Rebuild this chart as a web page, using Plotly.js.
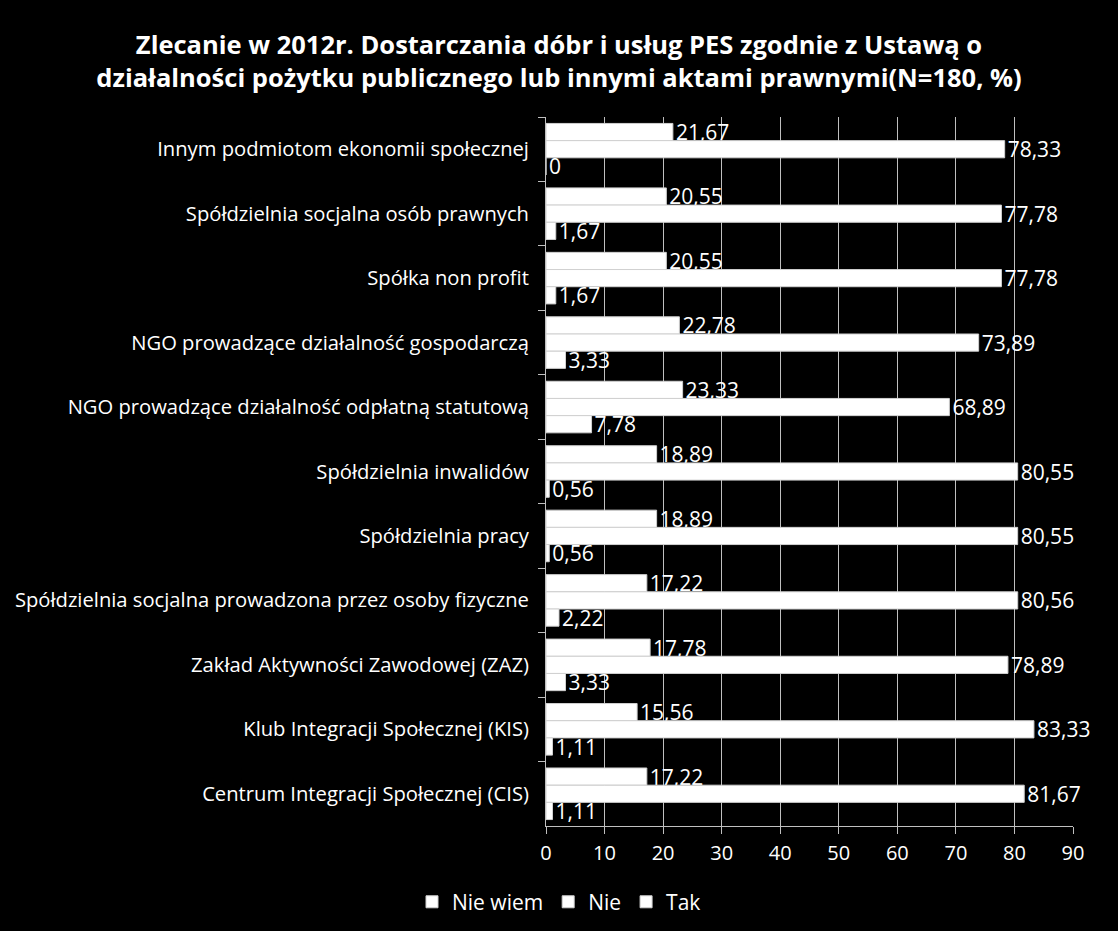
<!DOCTYPE html>
<html>
<head>
<meta charset="utf-8">
<script src="https://cdn.plot.ly/plotly-3.0.1.min.js"></script>
<style>html,body{margin:0;padding:0;background:#000;}#chart{width:1118px;height:931px;}</style>
</head>
<body>
<div id="chart"></div>
<script>
const categories = [
  "Innym podmiotom ekonomii społecznej",
  "Spółdzielnia socjalna osób prawnych",
  "Spółka non profit",
  "NGO prowadzące działalność gospodarczą",
  "NGO prowadzące działalność odpłatną statutową",
  "Spółdzielnia inwalidów",
  "Spółdzielnia pracy",
  "Spółdzielnia socjalna prowadzona przez osoby fizyczne",
  "Zakład Aktywności Zawodowej (ZAZ)",
  "Klub Integracji Społecznej (KIS)",
  "Centrum Integracji Społecznej (CIS)"
];
const nieWiem = [21.67, 20.55, 20.55, 22.78, 23.33, 18.89, 18.89, 17.22, 17.78, 15.56, 17.22];
const nie     = [78.33, 77.78, 77.78, 73.89, 68.89, 80.55, 80.55, 80.56, 78.89, 83.33, 81.67];
const tak     = [0, 1.67, 1.67, 3.33, 7.78, 0.56, 0.56, 2.22, 3.33, 1.11, 1.11];
const seriesNames = ["Nie wiem", "Nie", "Tak"];
const xTicks = [0, 10, 20, 30, 40, 50, 60, 70, 80, 90];

const fmt = v => String(v).replace('.', ',');
const FONT = "'Open Sans', 'Noto Sans', sans-serif";

function mk(name, vals) {
  return {
    type: 'bar', orientation: 'h', name: name,
    x: vals, y: categories,
    text: vals.map(fmt), textposition: 'outside', cliponaxis: false,
    constraintext: 'none',
    textfont: {family: FONT, size: 21, color: '#ffffff'},
    marker: {color: '#ffffff', line: {color: '#d0d0d0', width: 1}}
  };
}
const data = [mk(seriesNames[0], nieWiem), mk(seriesNames[1], nie), mk(seriesNames[2], tak)];

const layout = {
  width: 1118, height: 931,
  paper_bgcolor: '#000000', plot_bgcolor: '#000000',
  font: {family: FONT, color: '#ffffff'},
  title: {
    text: '<b>Zlecanie w 2012r. Dostarczania dóbr i usług PES zgodnie z Ustawą o<br>działalności pożytku publicznego lub innymi aktami prawnymi(N=180, %)</b>',
    x: 0.5, xanchor: 'center', xref: 'container',
    y: 0.942, yanchor: 'middle', yref: 'container',
    font: {family: FONT, size: 25.5, color: '#ffffff', lineheight: 1.2}
  },
  margin: {l: 546, r: 45, t: 117, b: 105},
  barmode: 'group', bargap: 0.2, bargroupgap: 0,
  xaxis: {
    range: [0, 90], tickvals: xTicks, ticktext: xTicks.map(String),
    showgrid: true, gridcolor: '#bfbfbf', gridwidth: 1,
    zeroline: false, showline: true, linecolor: '#bfbfbf',
    ticks: 'outside', tickcolor: '#bfbfbf', ticklen: 7,
    tickfont: {family: FONT, size: 20, color: '#ffffff'}, ticklabelstandoff: 2,
    automargin: false
  },
  yaxis: {
    autorange: 'reversed', showgrid: false, zeroline: false,
    showline: true, linecolor: '#bfbfbf', ticks: 'outside', tickson: 'boundaries',
    tickcolor: '#bfbfbf', ticklen: 7,
    tickfont: {family: FONT, size: 20.2, color: '#ffffff'}, ticklabelstandoff: 12,
    automargin: false
  },
  legend: {
    orientation: 'h', x: 0.5, xanchor: 'center', xref: 'container',
    y: 0.031, yanchor: 'middle', yref: 'container', traceorder: 'normal',
    font: {family: FONT, size: 21, color: '#ffffff'}
  },
  showlegend: true
};
Plotly.newPlot('chart', data, layout, {displayModeBar: false});
</script>
</body>
</html>
